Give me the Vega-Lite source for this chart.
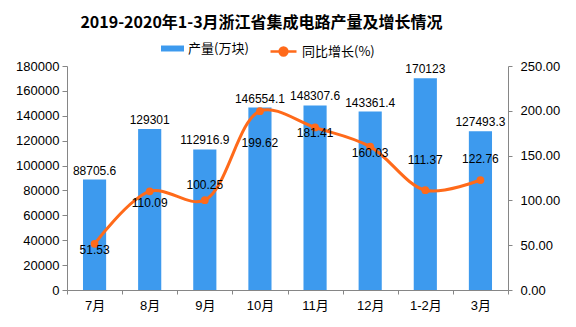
{
  "$schema": "https://vega.github.io/schema/vega-lite/v6.json",
  "width": 441,
  "height": 224,
  "autosize": {"type": "none"},
  "padding": {"left": 67, "top": 66, "right": 68, "bottom": 37},
  "background": "white",
  "title": {
    "text": "2019-2020年1-3月浙江省集成电路产量及增长情况",
    "font": "Noto Sans CJK SC",
    "fontSize": 16,
    "fontWeight": "bold",
    "color": "#000000",
    "anchor": "middle",
    "dx": -26,
    "offset": 6
  },
  "config": {
    "view": {"stroke": null},
    "axis": {
      "labelFont": "Liberation Sans, Noto Sans CJK SC",
      "labelFontSize": 13,
      "labelColor": "#000000",
      "domainColor": "#868686",
      "tickColor": "#868686",
      "grid": false,
      "title": null
    },
    "legend": {
      "labelFont": "Noto Sans CJK SC",
      "labelFontSize": 13,
      "labelColor": "#000000",
      "padding": 0
    }
  },
  "data": {
    "values": [
      {"month": "7月", "output": 88705.6, "growth": 51.53},
      {"month": "8月", "output": 129301, "growth": 110.09},
      {"month": "9月", "output": 112916.9, "growth": 100.25},
      {"month": "10月", "output": 146554.1, "growth": 199.62},
      {"month": "11月", "output": 148307.6, "growth": 181.41},
      {"month": "12月", "output": 143361.4, "growth": 160.03},
      {"month": "1-2月", "output": 170123, "growth": 111.37},
      {"month": "3月", "output": 127493.3, "growth": 122.76}
    ]
  },
  "encoding": {
    "x": {
      "field": "month",
      "type": "nominal",
      "sort": null,
      "scale": {"paddingInner": 0, "paddingOuter": 0},
      "axis": {"labelAngle": 0, "tickBand": "extent", "tickSize": 4, "labelPadding": 5, "title": null}
    }
  },
  "layer": [
    {
      "encoding": {
        "y": {
          "field": "output",
          "type": "quantitative",
          "scale": {"domain": [0, 180000]},
          "axis": {
            "orient": "left",
            "values": [0, 20000, 40000, 60000, 80000, 100000, 120000, 140000, 160000, 180000],
            "format": "d",
            "tickSize": 5,
            "labelPadding": 3,
            "title": null
          }
        }
      },
      "layer": [
        {
          "mark": {"type": "bar", "width": {"band": 0.42}},
          "encoding": {
            "fill": {
              "datum": "产量(万块)",
              "type": "nominal",
              "scale": {"range": ["#3D9AEE"]},
              "legend": {
                "orient": "none",
                "legendX": 94,
                "legendY": -29,
                "title": null,
                "symbolType": "M-1,-0.26H1V0.26H-1Z",
                "symbolSize": 529,
                "symbolStrokeWidth": 0
              }
            }
          }
        },
        {
          "mark": {"type": "text", "baseline": "alphabetic", "dy": -5, "font": "Liberation Sans", "fontSize": 12, "color": "#000000"},
          "encoding": {"text": {"field": "output", "type": "quantitative", "format": ".10~g"}}
        }
      ]
    },
    {
      "encoding": {
        "y": {
          "field": "growth",
          "type": "quantitative",
          "scale": {"domain": [0, 250]},
          "axis": {
            "orient": "right",
            "values": [0, 50, 100, 150, 200, 250],
            "format": ".2f",
            "tickSize": 4,
            "labelPadding": 8,
            "title": null
          }
        }
      },
      "layer": [
        {
          "mark": {"type": "line", "interpolate": "catmull-rom", "strokeWidth": 3},
          "encoding": {
            "stroke": {
              "datum": "同比增长(%)",
              "type": "nominal",
              "scale": {"range": ["#FF6A1A"]},
              "legend": {
                "orient": "none",
                "legendX": 202,
                "legendY": -29,
                "title": null,
                "symbolType": "M-1,0H1M-0.3,0A0.3,0.3 0 1,1 0.3,0A0.3,0.3 0 1,1 -0.3,0",
                "symbolSize": 676,
                "symbolStrokeWidth": 2.5,
                "symbolFillColor": "#FF6A1A"
              }
            }
          }
        },
        {
          "mark": {"type": "point", "filled": true, "size": 60, "color": "#FF6A1A", "opacity": 1}
        },
        {
          "transform": [{"filter": {"field": "month", "oneOf": ["7月", "11月", "12月"]}}],
          "mark": {"type": "text", "dy": 6, "font": "Liberation Sans", "fontSize": 12, "color": "#000000"},
          "encoding": {"text": {"field": "growth", "type": "quantitative", "format": ".2f"}}
        },
        {
          "transform": [{"filter": {"field": "month", "oneOf": ["8月"]}}],
          "mark": {"type": "text", "dy": 12, "font": "Liberation Sans", "fontSize": 12, "color": "#000000"},
          "encoding": {"text": {"field": "growth", "type": "quantitative", "format": ".2f"}}
        },
        {
          "transform": [{"filter": {"field": "month", "oneOf": ["10月"]}}],
          "mark": {"type": "text", "dy": 32, "font": "Liberation Sans", "fontSize": 12, "color": "#000000"},
          "encoding": {"text": {"field": "growth", "type": "quantitative", "format": ".2f"}}
        },
        {
          "transform": [{"filter": {"field": "month", "oneOf": ["9月"]}}],
          "mark": {"type": "text", "dy": -15, "font": "Liberation Sans", "fontSize": 12, "color": "#000000"},
          "encoding": {"text": {"field": "growth", "type": "quantitative", "format": ".2f"}}
        },
        {
          "transform": [{"filter": {"field": "month", "oneOf": ["1-2月"]}}],
          "mark": {"type": "text", "dy": -30, "font": "Liberation Sans", "fontSize": 12, "color": "#000000"},
          "encoding": {"text": {"field": "growth", "type": "quantitative", "format": ".2f"}}
        },
        {
          "transform": [{"filter": {"field": "month", "oneOf": ["3月"]}}],
          "mark": {"type": "text", "dy": -21, "font": "Liberation Sans", "fontSize": 12, "color": "#000000"},
          "encoding": {"text": {"field": "growth", "type": "quantitative", "format": ".2f"}}
        }
      ]
    }
  ],
  "resolve": {"scale": {"y": "independent", "fill": "independent", "stroke": "independent"}}
}
